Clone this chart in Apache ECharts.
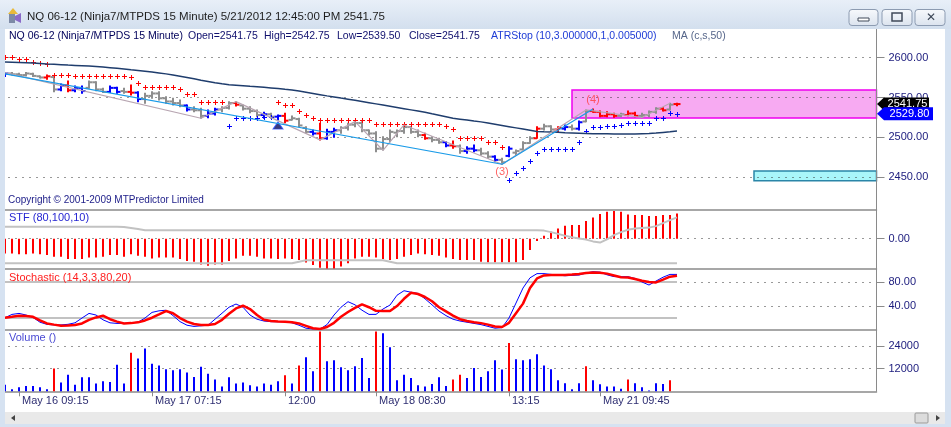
<!DOCTYPE html>
<html><head><meta charset="utf-8">
<script src="https://cdn.jsdelivr.net/npm/echarts@6/dist/echarts.min.js"></script>
<style>html,body{margin:0;padding:0;background:#fff;}#c{width:951px;height:427px;}</style>
</head><body><div id="c"></div>
<script>
// ---------- DATA ----------
const tickBars = [2, 21, 40, 53, 72, 85];
const tickLabels = ['May 16 09:15', 'May 17 07:15', '12:00', 'May 18 08:30', '13:15', 'May 21 09:45'];
const slotCount = 125; // bars + empty future space to the right
const priceTicks = [2450, 2500, 2550, 2600];
const stfTicks = [0];
const stochTicks = [40, 80];
const volTicks = [12000, 24000];

const barOpen = [2577,2580,2579,2578,2579.5,2576.5,2575,2575.5,2560,2565,
 2559,2562,2562,2569,2560,2557,2562,2558,2557,2556,
 2548,2552,2555,2549,2545,2543,2540,2535,2534,2527,
 2530,2535,2537,2543,2540,2536,2533,2528,2529,2526,
 2527,2522,2523,2512,2507,2505,2499,2507,2509,2512,
 2516,2518,2509,2505,2486,2498,2506,2508,2513,2507,
 2503,2499,2497,2494,2490,2489,2483,2486,2484,2480,
 2476,2472,2477,2481,2485,2493,2499,2511,2514,2510,
 2511,2513,2511,2520,2533,2532,2527,2529,2527,2528,
 2530,2527,2528,2532,2536,2535,2541.75];
const barHigh = [2581.1,2581.1,2580.2,2581.1,2580.2,2576.9,2578.1,2576.1,2566.9,2570.6,
 2564.4,2564.4,2570.6,2569.8,2561.5,2564.4,2562.7,2561.5,2565.6,2557.3,
 2555.2,2557.3,2557.3,2551.0,2549.0,2546.9,2540.6,2538.5,2536.5,2534.4,
 2536.5,2538.5,2544.8,2544.8,2540.6,2538.5,2534.4,2531.5,2530.2,2528.1,
 2530.2,2526.9,2524.0,2513.5,2509.4,2517.7,2510.2,2511.5,2513.5,2517.7,
 2519.8,2519.8,2509.4,2507.3,2501.0,2509.4,2509.4,2515.6,2513.5,2509.4,
 2505.2,2501.0,2499.0,2494.8,2495.5,2490.6,2488.5,2490.6,2486.5,2482.3,
 2477.3,2474.0,2488.5,2484.4,2494.8,2501.0,2513.5,2516.5,2514.8,2513.5,
 2515.6,2515.6,2520.6,2534.4,2535.6,2533.1,2532.3,2530.2,2530.2,2533.1,
 2531.5,2530.2,2533.1,2537.3,2537.3,2542.7,2542.75];
const barLow = [2576.1,2578.1,2576.9,2576.9,2576.1,2574.4,2572.7,2557.3,2558.5,2557.3,
 2557.3,2555.2,2561.5,2558.5,2556.1,2556.1,2555.2,2555.2,2553.1,2544.8,
 2542.7,2549.0,2546.9,2542.7,2540.6,2538.5,2533.1,2532.3,2524.0,2524.8,
 2528.1,2532.3,2535.5,2539.4,2534.4,2531.0,2526.0,2524.0,2524.0,2521.9,
 2518.5,2521.9,2513.5,2505.2,2503.1,2496.9,2497.7,2500.2,2505.2,2509.4,
 2513.5,2507.3,2503.1,2482.3,2484.4,2494.8,2501.0,2505.2,2505.2,2501.0,
 2497.7,2494.8,2492.7,2488.5,2486.5,2480.2,2480.2,2482.3,2478.1,2474.0,
 2469.8,2466.5,2476.0,2478.1,2484.4,2492.7,2498.9,2509.4,2507.3,2507.3,
 2509.4,2509.4,2509.4,2519.8,2531.5,2526.0,2526.0,2525.2,2526.0,2527.3,
 2526.0,2524.8,2526.0,2530.2,2533.1,2534.4,2539.5];
const barClose = [2580,2579,2578,2580,2577,2575,2576.5,2560,2565,2559,
 2562,2558,2569,2560,2557,2562,2557,2557,2556,2548,
 2552,2555,2549,2545,2543,2540,2535,2534,2527,2530,
 2535,2537,2543,2541,2536,2533,2528,2529,2526,2527,
 2521,2524,2515,2507,2505,2499,2507,2509,2512,2516,
 2518,2509,2505,2486,2498,2507,2508,2513,2507,2503,
 2499,2497,2494,2490,2489,2483,2486,2484,2480,2476,
 2472,2469,2486,2483,2493,2499,2511,2514,2510,2512,
 2513,2511,2519,2533,2532,2527,2529,2527,2529,2530,
 2527,2528,2532,2536,2534,2541,2541.75];
// g = gray, b = blue, r = red
const barColorCodes = 'bgggggrgbr' + 'bbgggbbgrb' + 'ggggggbggb' + 'bggrgggbgb' + 'rgggbrbbgg' +
  'gggggggggg' + 'rggbrgbbgg' + 'bgbgggrggr' + 'bgbgrrrrgr' + 'rgggrgr';

const atrStop = [2600.2,2600.2,2597.7,2597.7,2594.8,2592.7,2591.9,2578.1,2578.1,2578.1,
 2576.9,2576.9,2576.9,2576.9,2576.9,2576.9,2576.9,2576.9,2575.2,2567.7,
 2562.7,2562.7,2562.7,2562.7,2562.7,2560.2,2554.4,2554.4,2544.8,2544.8,
 2544.8,2544.8,2514.4,2524.0,2524.0,2524.0,2524.0,2525.5,2525.5,2544.8,
 2540.6,2540.6,2533.1,2528.1,2524.0,2521.9,2521.9,2521.9,2521.9,2521.9,
 2521.9,2521.9,2521.9,2516.9,2516.9,2516.9,2516.9,2516.9,2516.9,2516.9,
 2516.9,2516.9,2516.9,2514.4,2510.2,2499.8,2499.8,2499.8,2499.8,2494.8,
 2494.8,2488.5,2446.9,2456.0,2461.5,2470.6,2480.2,2485.3,2485.3,2485.3,
 2485.3,2486.0,2494.8,2508.5,2512.8,2512.8,2514.4,2514.4,2515.6,2517.7,
 2517.7,2517.7,2517.7,2524.0,2524.0,2530.2,2529.8];
// s = short stop (red, above), l = long stop (blue, below)
const atrSide = 'ssssssssss' + 'ssssssssss' + 'ssssssssss' + 'sslllllll' + 'ssssssssss' +
  'ssssssssss' + 'ssssssssss' + 'sss' + 'llllllllll' + 'llllllllll' + 'lllll';

const ma50 = [2594.4,2594.1,2593.8,2593.5,2593,2592.5,2591.9,2591.5,2591,2590.5,
 2590.1,2589.7,2589.3,2588.8,2588.1,2587.3,2586.4,2585.5,2584.6,2583.8,
 2582.8,2581.7,2580.6,2579.5,2578.1,2576.6,2575,2573.3,2571.5,2570,
 2568.5,2567.1,2565.8,2565.2,2564.6,2564,2563.5,2562.7,2561.9,2561.1,
 2560.2,2559.4,2558,2556.5,2555,2553.5,2552,2550.6,2549.2,2547.9,
 2546.5,2545,2543.5,2542,2540.5,2539,2537.5,2536,2534.5,2533,
 2531.5,2529.6,2527.8,2525.9,2524,2522.9,2521.8,2520.6,2519.5,2518,
 2516.5,2515,2513.5,2512,2510.5,2509,2507.5,2507.1,2506.8,2506.4,
 2506,2505.7,2505.4,2505.1,2504.8,2504.5,2504.5,2504.4,2504.4,2504.4,
 2504.4,2504.8,2505.1,2505.5,2506.3,2507.1,2508];

const zigzag = [[0,2581],[28,2524],[33,2544.8],[45,2497],[50,2519.8],[54,2484],
 [57,2515.6],[71,2466.5],[83,2534.4],[91,2525],[95,2542.7]];
const trendLine = [[0,2579.4],[71,2466.5],[84,2535.6]];
const swingLabels = [{name:'(3)', bar:71, price:2456.9}, {name:'(4)', bar:84, price:2546.3}];
const signalTriangle = [[39, 2514.9]];

const zoneStart = [81, 107];
const zoneTop = [2559.4, 2458.1];
const zoneBottom = [2524.4, 2446.0];

const lastClose = 2541.75;
const lastStop = 2529.80;

const stf = [-49,-49,-52,-52,-49,-52,-54,-60,-60,-68,
 -68,-68,-63,-63,-60,-54,-54,-60,-52,-57,
 -60,-66,-63,-63,-63,-68,-74,-77,-86,-90,
 -86,-86,-74,-66,-57,-57,-60,-66,-66,-68,
 -66,-68,-71,-79,-88,-97,-99,-99,-93,-82,
 -66,-60,-60,-63,-68,-71,-68,-60,-54,-49,
 -52,-54,-57,-63,-68,-71,-71,-71,-77,-79,
 -79,-79,-79,-79,-71,-38,-8,10,23,34,
 43,46,46,59,71,82,90,92,90,81,
 79,79,76,76,79,79,84];
const stfUpper = [40,40,40,40,40,40,40,40,40,40,
 40,40,40,40,40,40,40,39,36,32,
 28,28,28,28,28,28,28,28,28,28,
 28,28,28,28,28,28,28,28,28,28,
 28,28,28,28,28,28,28,28,28,28,
 28,28,28,28,28,28,28,28,28,28,
 28,28,28,28,28,28,28,28,28,28,
 28,28,28,28,28,28,28,27,22,16,
 10,5,1,-3,-9,-13,-2,12,22,30,
 34,36,37,42,52,62,71];
const stfLower = [-82,-82,-82,-82,-82,-82,-82,-82,-82,-82,
 -82,-82,-82,-82,-82,-82,-82,-82,-82,-82,
 -82,-82,-82,-82,-82,-82,-82,-82,-82,-82,
 -82,-82,-82,-82,-82,-82,-82,-82,-82,-82,
 -82,-82,-77,-72,-72,-72,-72,-72,-72,-72,
 -72,-72,-72,-72,-72,-77,-82,-82,-82,-82,
 -82,-82,-82,-82,-82,-82,-82,-82,-82,-82,
 -82,-82,-82,-82,-82,-82,-82,-82,-82,-82,
 -82,-82,-82,-82,-82,-82,-82,-82,-82,-82,
 -82,-82,-82,-82,-82,-82,-82];

const stochK = [20.5,26,27.7,25,21,13,9.4,8.5,8.5,9.5,
 12,20,27.7,25,17,12,11,11,12,13,
 20,29.4,32,33,24,14,8,6,7,8,
 18,28,38,43.3,38,25,18,15,13.9,13.9,
 13.9,12,8,3,1.6,1.6,9,25,38,47.2,
 42,33,26,26.1,35,41.6,58,65.5,63,61,
 52,42,31.6,24,18,15,13,11,9,6,
 3,4,20,45,70,87,94,94,92.7,91.5,
 90.5,91,91.6,95,97.2,96.5,92,89,88.9,88.9,
 86,80,75,81.6,88,92.7,92.7];
const stochD = [20.5,22,23.9,23.5,22,16,11,9,7.2,7.5,
 8.5,11,17,21,23.9,18,14,11,11.5,12.8,
 16,20.5,26,31.6,28,20,14,10,8.3,8.3,
 10,17,27,36,40.5,35,25,17,15,14,
 13.9,13,11,7,3,1.6,5,12,22,30,
 37,42.7,38,32,31.6,31.6,40,52,62,60,
 55,48,38,31,24,18,15,13,11.5,9,
 6,5,12,28,44,70,86,91,91.6,91.6,
 91.6,92.5,93.5,95,96,95.5,94,91,88,87.5,
 85,82,80,79.4,84,88.9,90.5];
const stochLevels = [80, 20];

const volume = [3500,1100,2100,2800,2800,2100,1100,12000,4600,8800,
 3500,7400,7400,4100,5300,4900,14100,4100,20400,17300,
 22600,14600,13700,11600,11100,11600,9900,7600,13000,9300,
 6300,2600,7400,4100,4600,3200,2600,4100,3500,5300,
 8500,4100,13700,18000,10600,31700,15900,16400,12700,11100,
 13200,17600,7000,31700,30700,23300,5800,8800,7000,3200,
 2600,3900,7400,2800,6300,8800,7000,12300,7600,10600,
 16400,11500,25500,16900,16400,16900,19600,13700,11600,5800,
 4200,1100,4200,13200,5800,3700,2600,2600,1400,6300,
 4200,2100,400,4200,3900,5800];
const volumeRedBars = [7, 18, 40, 42, 45, 53, 64, 65, 72, 83, 89, 95];

// ---------- CHART ----------
const FONT = '"Liberation Sans", Arial, sans-serif';
const categories = [];
for (let i = 0; i < slotCount; i++) categories.push('');
tickBars.forEach((b, k) => { categories[b] = tickLabels[k]; });
const colorMap = {g: '#8e8e8e', b: '#0000ff', r: '#ff0000'};
const gridL = 1.5, gridW = 875;

function xAx(gi, showLabels) {
  return {
    type: 'category', gridIndex: gi, data: categories, boundaryGap: true,
    axisLine: {show: true, onZero: false, lineStyle: {color: '#8a8a8a', width: 1.5}},
    axisTick: {show: showLabels, alignWithLabel: true, length: 5, interval: (i, v) => v !== '',
      lineStyle: {color: '#8a8a8a'}},
    axisLabel: {show: showLabels, interval: (i, v) => v !== '', align: 'left', padding: [0, 0, 0, 3],
      margin: 4, color: '#2e2e72', fontSize: 11, fontFamily: FONT},
    splitLine: {show: false}
  };
}
function yAx(gi, min, max, vals, fmt) {
  return {
    type: 'value', gridIndex: gi, position: 'right', min: min, max: max,
    axisLine: {show: true, lineStyle: {color: '#8a8a8a', width: 1}},
    axisTick: {show: true, length: 8, customValues: vals, lineStyle: {color: '#8a8a8a'}},
    axisLabel: {show: true, customValues: vals, formatter: fmt, margin: 12, color: '#1b1b7d',
      fontSize: 11, fontFamily: FONT},
    splitLine: {show: true, lineStyle: {color: '#333', width: 1, type: [1, 6]}}
  };
}

const ohlcData = barOpen.map((o, i) => [i, o, barHigh[i], barLow[i], barClose[i]]);
const atrData = atrStop.map((v, i) => [i, v]);

const option = {
  animation: false,
  backgroundColor: '#ffffff',
  grid: [
    {left: gridL, width: gridW, top: 29, height: 180.7},
    {left: gridL, width: gridW, top: 209.7, height: 59.3},
    {left: gridL, width: gridW, top: 269, height: 60.3},
    {left: gridL, width: gridW, top: 329.3, height: 62}
  ],
  xAxis: [xAx(0, false), xAx(1, false), xAx(2, false), xAx(3, true)],
  yAxis: [
    yAx(0, 2409.7, 2635.6, priceTicks, v => v.toFixed(2)),
    yAx(1, -101, 96.7, stfTicks, v => v.toFixed(2)),
    yAx(2, 1.2, 101.7, stochTicks, v => v.toFixed(2)),
    yAx(3, 0, 32800, volTicks, v => String(v))
  ],
  series: [
    { // support / target zones
      type: 'custom', xAxisIndex: 0, yAxisIndex: 0, z: -1, silent: true,
      data: zoneStart.map((s, k) => [s, zoneTop[k], zoneBottom[k]]),
      renderItem: function (params, api) {
        const i = api.value(0);
        const p1 = api.coord([i, api.value(1)]);
        const p2 = api.coord([i, api.value(2)]);
        const cs = params.coordSys;
        const right = cs.x + cs.width;
        const k = params.dataIndex;
        return {type: 'rect', shape: {x: p1[0], y: p1[1], width: right - p1[0], height: p2[1] - p1[1]},
          style: {fill: k === 0 ? '#f7aaf2' : '#a9f6fa', stroke: k === 0 ? '#f000f0' : '#2a86a8', lineWidth: 1.5}};
      }
    },
    {type: 'line', name: 'MA', xAxisIndex: 0, yAxisIndex: 0, data: ma50, symbol: 'none', silent: true,
      lineStyle: {color: '#1f3d6d', width: 1.5}},
    {type: 'line', name: 'zigzag', xAxisIndex: 0, yAxisIndex: 0, data: zigzag, symbol: 'none', silent: true,
      lineStyle: {color: '#b8a6b2', width: 1.2}},
    {type: 'line', name: 'trend', xAxisIndex: 0, yAxisIndex: 0, data: trendLine, symbol: 'none', silent: true,
      lineStyle: {color: '#1a9be8', width: 1.2}},
    {
      type: 'custom', name: 'OHLC', xAxisIndex: 0, yAxisIndex: 0, silent: true,
      dimensions: ['x', 'o', 'h', 'l', 'c'], encode: {x: 0, y: [1, 2, 3, 4]},
      data: ohlcData,
      renderItem: function (params, api) {
        const i = api.value(0);
        const o = api.coord([i, api.value(1)]);
        const h = api.coord([i, api.value(2)]);
        const l = api.coord([i, api.value(3)]);
        const c = api.coord([i, api.value(4)]);
        const col = colorMap[barColorCodes[params.dataIndex]];
        const x = Math.round(h[0]);
        return {type: 'group', children: [
          {type: 'line', shape: {x1: x, y1: h[1] - 0.5, x2: x, y2: l[1] + 0.5}, style: {stroke: col, lineWidth: 2}},
          {type: 'line', shape: {x1: x - 3.5, y1: o[1], x2: x, y2: o[1]}, style: {stroke: col, lineWidth: 2}},
          {type: 'line', shape: {x1: x, y1: c[1], x2: x + 3.5, y2: c[1]}, style: {stroke: col, lineWidth: 2}}
        ]};
      }
    },
    { // ATR stop crosses, crisp 1px "+" marks
      type: 'custom', name: 'ATRStop', xAxisIndex: 0, yAxisIndex: 0, silent: true,
      data: atrData,
      renderItem: function (params, api) {
        const p = api.coord([api.value(0), api.value(1)]);
        const x = Math.round(p[0]) + 0.5, y = Math.round(p[1]) + 0.5;
        const col = atrSide[params.dataIndex] === 's' ? '#ff0000' : '#0000ff';
        return {type: 'group', children: [
          {type: 'line', shape: {x1: x - 2.5, y1: y, x2: x + 2.5, y2: y}, style: {stroke: col, lineWidth: 1}},
          {type: 'line', shape: {x1: x, y1: y - 2.5, x2: x, y2: y + 2.5}, style: {stroke: col, lineWidth: 1}}
        ]};
      }
    },
    {type: 'scatter', name: 'signal', xAxisIndex: 0, yAxisIndex: 0, data: signalTriangle, symbol: 'triangle',
      symbolSize: [10, 7], itemStyle: {color: '#0a0a5a', borderColor: '#2a4cff', borderWidth: 1}, silent: true},
    {type: 'scatter', name: 'swings', xAxisIndex: 0, yAxisIndex: 0, silent: true,
      data: swingLabels.map(s => ({name: s.name, value: [s.bar, s.price]})),
      symbol: 'circle', symbolSize: 0.1, itemStyle: {color: 'rgba(0,0,0,0)'},
      label: {show: true, position: 'inside', formatter: '{b}', color: '#ff3c3c', fontSize: 11, fontFamily: FONT}},
    // STF
    {type: 'line', xAxisIndex: 1, yAxisIndex: 1, data: stfUpper, symbol: 'none', silent: true,
      lineStyle: {color: '#c2c2c2', width: 2}},
    {type: 'line', xAxisIndex: 1, yAxisIndex: 1, data: stfLower, symbol: 'none', silent: true,
      lineStyle: {color: '#c2c2c2', width: 2}},
    {type: 'bar', xAxisIndex: 1, yAxisIndex: 1, data: stf, barWidth: 2, silent: true,
      itemStyle: {color: '#ff0000'}},
    // Stochastic
    {type: 'line', xAxisIndex: 2, yAxisIndex: 2, data: [[0, stochLevels[0]], [stochK.length - 1, stochLevels[0]]],
      symbol: 'none', silent: true, lineStyle: {color: '#c2c2c2', width: 2}},
    {type: 'line', xAxisIndex: 2, yAxisIndex: 2, data: [[0, stochLevels[1]], [stochK.length - 1, stochLevels[1]]],
      symbol: 'none', silent: true, lineStyle: {color: '#c2c2c2', width: 2}},
    {type: 'line', xAxisIndex: 2, yAxisIndex: 2, data: stochK, symbol: 'none', silent: true,
      lineStyle: {color: '#0000ff', width: 1}},
    {type: 'line', xAxisIndex: 2, yAxisIndex: 2, data: stochD, symbol: 'none', silent: true,
      lineStyle: {color: '#ff0000', width: 2.5}},
    // Volume
    {type: 'bar', xAxisIndex: 3, yAxisIndex: 3, data: volume, barWidth: 2, silent: true,
      itemStyle: {color: p => volumeRedBars.indexOf(p.dataIndex) >= 0 ? '#ff0000' : '#0000ff'}}
  ]
};

const frame = '#d6e2f1';
function txt(x, y, text, color, size, extra) {
  return Object.assign({type: 'text', x: x, y: y, z: 110, silent: true,
    style: {text: text, fill: color, font: size + 'px ' + FONT, verticalAlign: 'middle', textVerticalAlign: 'middle',
      align: 'left', textAlign: 'left'}}, extra || {});
}
function btn(x, w) {
  return {type: 'rect', z: 110, silent: true, shape: {x: x, y: 9.5, width: w, height: 16, r: 3},
    style: {fill: {type: 'linear', x: 0, y: 0, x2: 0, y2: 1,
      colorStops: [{offset: 0, color: '#f7f9fc'}, {offset: 1, color: '#dbe3ee'}]}, stroke: '#8c9bb1', lineWidth: 1}};
}
const statics = [
  {type: 'rect', z: 100, silent: true, shape: {x: 0, y: 0, width: 951, height: 29},
    style: {fill: {type: 'linear', x: 0, y: 0, x2: 0, y2: 1,
      colorStops: [{offset: 0, color: '#e8eff8'}, {offset: 1, color: '#d3dfee'}]}}},
  {type: 'rect', z: 100, silent: true, shape: {x: 0, y: 29, width: 5, height: 398}, style: {fill: frame}},
  {type: 'rect', z: 100, silent: true, shape: {x: 945, y: 29, width: 6, height: 398}, style: {fill: frame}},
  {type: 'rect', z: 100, silent: true, shape: {x: 0, y: 424, width: 951, height: 3}, style: {fill: frame}},
  // scrollbar
  {type: 'rect', z: 100, silent: true, shape: {x: 5, y: 412, width: 940, height: 12}, style: {fill: '#e9e9e9'}},
  {type: 'polygon', z: 110, silent: true, shape: {points: [[11, 418], [15, 415], [15, 421]]}, style: {fill: '#444'}},
  {type: 'rect', z: 110, silent: true, shape: {x: 915, y: 413, width: 13, height: 10, r: 1},
    style: {fill: '#dcdcdc', stroke: '#9a9a9a', lineWidth: 1}},
  {type: 'polygon', z: 110, silent: true, shape: {points: [[940, 418], [936, 415], [936, 421]]}, style: {fill: '#444'}},
  // window icon
  {type: 'rect', z: 110, silent: true, shape: {x: 9, y: 14, width: 6, height: 9}, style: {fill: '#7d8aa6'}},
  {type: 'polygon', z: 110, silent: true, shape: {points: [[8, 14], [13, 8], [18, 14]]}, style: {fill: '#e8b93a'}},
  {type: 'polygon', z: 110, silent: true, shape: {points: [[15, 16], [21, 13], [21, 23], [15, 20]]}, style: {fill: '#8a6ac8'}},
  // window buttons
  btn(849, 29), btn(882, 30), btn(915, 30),
  {type: 'rect', z: 111, silent: true, shape: {x: 858, y: 18, width: 11, height: 3}, style: {fill: '#fff', stroke: '#404a5a', lineWidth: 1}},
  {type: 'rect', z: 111, silent: true, shape: {x: 892, y: 13, width: 10, height: 8}, style: {fill: 'none', stroke: '#404a5a', lineWidth: 1.5}},
  txt(925.5, 17.5, '\u2715', '#3c4656', 12, {}),
  // title bar text
  txt(27, 17, 'NQ 06-12 (Ninja7/MTPDS 15 Minute) 5/21/2012 12:45:00 PM 2541.75', '#1e1e1e', 11.5),
  // header line
  txt(9, 36, 'NQ 06-12 (Ninja7/MTPDS 15 Minute)', '#00005a', 10.5),
  txt(188, 36, 'Open=2541.75', '#10106e', 10.5),
  txt(264, 36, 'High=2542.75', '#10106e', 10.5),
  txt(337, 36, 'Low=2539.50', '#10106e', 10.5),
  txt(409, 36, 'Close=2541.75', '#10106e', 10.5),
  txt(491, 36, 'ATRStop (10,3.000000,1,0.005000)', '#1e3cd6', 10.5),
  txt(672, 36, 'MA (c,s,50)', '#56668a', 10.5),
  // panel captions
  txt(8, 200, 'Copyright \u00a9 2001-2009 MTPredictor Limited', '#1c1c88', 10),
  txt(9, 218, 'STF (80,100,10)', '#2626d2', 11),
  txt(9, 277.5, 'Stochastic (14,3,3,80,20)', '#ff2020', 11),
  txt(9, 337.5, 'Volume ()', '#4a4ad4', 11)
];
option.graphic = statics;

const chart = echarts.init(document.getElementById('c'), null, {renderer: 'canvas', width: 951, height: 427});
chart.setOption(option);

function tag(value, fill, rightX) {
  const y = chart.convertToPixel({yAxisIndex: 0}, value);
  return {type: 'group', z: 120, silent: true, children: [
    {type: 'polygon', z: 120, shape: {points: [[877, y], [884, y - 6.5], [rightX, y - 6.5], [rightX, y + 6.5], [884, y + 6.5]]},
      style: {fill: fill}},
    {type: 'text', z: 121, x: (884 + rightX) / 2 + 1, y: y,
      style: {text: value.toFixed(2), fill: '#ffffff', font: '11px ' + FONT, align: 'center', textAlign: 'center',
        verticalAlign: 'middle', textVerticalAlign: 'middle'}}
  ]};
}
chart.setOption({graphic: statics.concat([tag(lastClose, '#000000', 929), tag(lastStop, '#0000ff', 933)])});
</script>
</body></html>
